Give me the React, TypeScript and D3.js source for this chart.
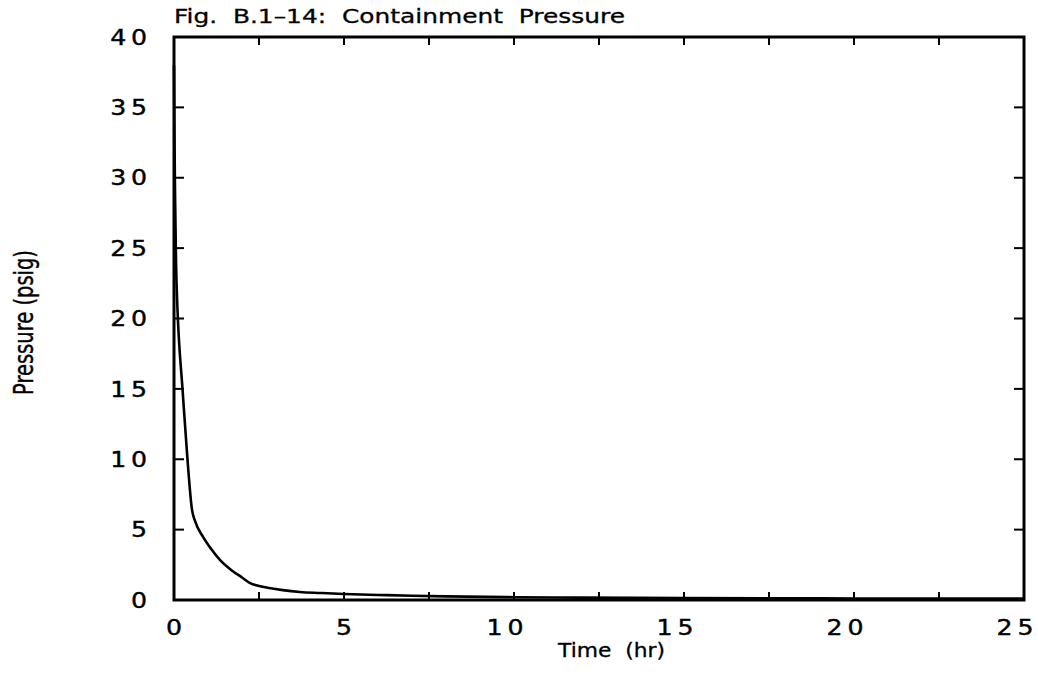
import React from "react";
import * as d3 from "d3";

const timeHr = [0, 0.01, 0.03, 0.06, 0.1, 0.13, 0.25, 0.39, 0.53, 0.62, 0.85, 1.1, 1.35, 1.7, 2.0, 2.24, 2.5, 2.8, 3.2, 3.7, 4.3, 5, 6, 7, 8, 10, 12, 15, 18, 20, 22, 25];
const pressurePsig = [38, 34, 29, 24, 20.8, 19.2, 15.0, 10.2, 6.4, 5.6, 4.5, 3.6, 2.85, 2.1, 1.6, 1.2, 1.0, 0.85, 0.7, 0.57, 0.5, 0.43, 0.36, 0.3, 0.26, 0.2, 0.17, 0.14, 0.12, 0.11, 0.1, 0.1];

const xTicks = [0, 2.5, 5, 7.5, 10, 12.5, 15, 17.5, 20, 22.5, 25];
const xTickLabels = [0, 5, 10, 15, 20, 25];
const yTicks = [0, 5, 10, 15, 20, 25, 30, 35, 40];

const titleText = "Fig.  B.1\u201314:  Containment  Pressure";
const xLabel = "Time  (hr)";
const yLabel = "Pressure (psig)";

const W = 1038;
const H = 684;
const L = 174, R = 1024, T = 37, B = 600;

const tickFont = "'DejaVu Sans', 'Liberation Sans', sans-serif";
const LS = 4;
const SX = 1.2;

export default function App() {
  const x = d3.scaleLinear().domain([0, 25]).range([L, R]);
  const y = d3.scaleLinear().domain([0, 40]).range([B, T]);
  const line = d3
    .line<number>()
    .x((_, i) => x(timeHr[i]))
    .y((d) => y(d))
    .curve(d3.curveMonotoneX);
  return (
    <svg
      width={W}
      height={H}
      style={{ position: "absolute", left: 0, top: 0, background: "#fff" }}
    >
      <rect x={0} y={0} width={W} height={H} fill="#fff" />
      {xTicks.map((t) => (
        <g key={"xt" + t}>
          <line x1={x(t)} x2={x(t)} y1={B} y2={B - 8} stroke="#000" strokeWidth={2} />
          <line x1={x(t)} x2={x(t)} y1={T} y2={T + 8} stroke="#000" strokeWidth={2} />
        </g>
      ))}
      {yTicks.map((t) => (
        <g key={"yt" + t}>
          <line x1={L} x2={L + 10} y1={y(t)} y2={y(t)} stroke="#000" strokeWidth={2} />
          <line x1={R} x2={R - 10} y1={y(t)} y2={y(t)} stroke="#000" strokeWidth={2} />
        </g>
      ))}
      <rect x={L} y={T} width={R - L} height={B - T} fill="none" stroke="#000" strokeWidth={3} />
      <path d={line(pressurePsig) || ""} fill="none" stroke="#000" strokeWidth={2.6} strokeLinejoin="round" />
      {yTicks.map((t) => (
        <text
          key={"yl" + t}
          transform={`translate(147,${y(t)}) scale(${SX},1)`}
          x={LS}
          textAnchor="end"
          dominantBaseline="central"
          fontFamily={tickFont}
          fontSize={21}
          letterSpacing={LS}
          stroke="#000"
          strokeWidth={0.4}
        >
          {String(t)}
        </text>
      ))}
      {xTickLabels.map((t) => (
        <text
          key={"xl" + t}
          transform={`translate(${x(t) - (String(t).length > 1 ? 9 : 0)},627) scale(${SX},1)`}
          x={LS / 2}
          textAnchor="middle"
          dominantBaseline="central"
          fontFamily={tickFont}
          fontSize={21}
          letterSpacing={LS}
          stroke="#000"
          strokeWidth={0.4}
        >
          {String(t)}
        </text>
      ))}
      <text
        x={L}
        y={23}
        fontFamily={tickFont}
        fontSize={19}
        textLength={451}
        lengthAdjust="spacingAndGlyphs"
        stroke="#000"
        strokeWidth={0.3}
        style={{ whiteSpace: "pre" }}
      >
        {titleText}
      </text>
      <text
        x={558}
        y={657}
        fontFamily={tickFont}
        fontSize={19}
        textLength={107}
        lengthAdjust="spacingAndGlyphs"
        stroke="#000"
        strokeWidth={0.3}
        style={{ whiteSpace: "pre" }}
      >
        {xLabel}
      </text>
      <text
        transform="translate(33,395) rotate(-90)"
        fontFamily="'Liberation Sans Narrow', 'DejaVu Sans Condensed', sans-serif"
        fontSize={26}
        textLength={145}
        lengthAdjust="spacingAndGlyphs"
        stroke="#000"
        strokeWidth={0.4}
      >
        {yLabel}
      </text>
    </svg>
  );
}
